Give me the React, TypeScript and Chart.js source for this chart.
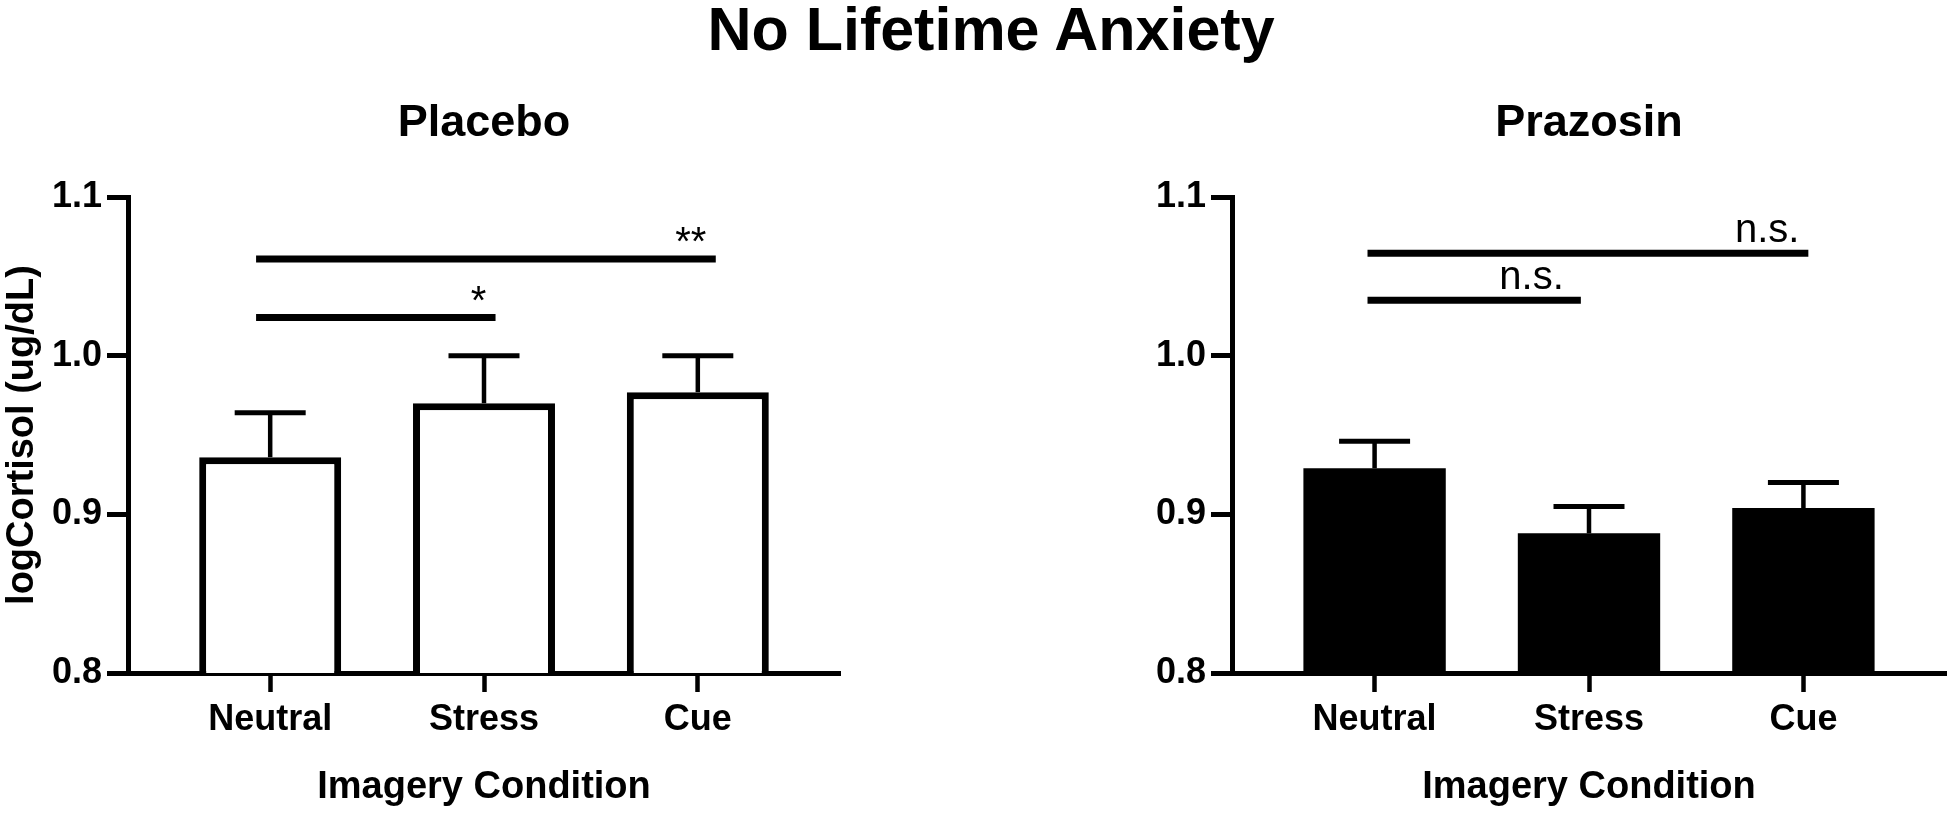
import React, { useEffect, useRef } from 'react';
import { Chart, registerables } from 'chart.js';

Chart.register(...registerables);

const FONT = '"Liberation Sans", Arial, Helvetica, sans-serif';

const mainTitle = 'No Lifetime Anxiety';
const categories = ['Neutral', 'Stress', 'Cue'];
const yTicks = [0.8, 0.9, 1.0, 1.1];
const yTitle = 'logCortisol (ug/dL)';
const xTitle = 'Imagery Condition';

const placeboTitle = 'Placebo';
const placeboMeans = [0.936, 0.970, 0.977];
const placeboSem = [0.028, 0.030, 0.023];
const placeboBracketFrom = [-0.066, -0.066];
const placeboBracketTo = [1.054, 2.084];
const placeboBracketLevel = [1.024, 1.061];
const placeboBracketLabel = ['*', '**'];
const placeboLabelX = [0.974, 1.967];

const prazosinTitle = 'Prazosin';
const prazosinMeans = [0.929, 0.888, 0.904];
const prazosinSem = [0.017, 0.017, 0.016];
const prazosinBracketFrom = [-0.033, -0.033];
const prazosinBracketTo = [0.962, 2.023];
const prazosinBracketLevel = [1.035, 1.0645];
const prazosinBracketLabel = ['n.s.', 'n.s.'];
const prazosinLabelX = [0.732, 1.831];

type PanelProps = {
  title: string;
  means: number[];
  sem: number[];
  filled: boolean;
  showYTitle: boolean;
  bFrom: number[];
  bTo: number[];
  bLevel: number[];
  bLabel: string[];
  labelX: number[];
  width: number;
  padRight: number;
};

function makeAnnotPlugin(p: PanelProps) {
  return {
    id: 'annot',
    afterDatasetsDraw(chart: any) {
      const { ctx } = chart;
      const x = chart.scales.x;
      const y = chart.scales.y;
      ctx.save();
      ctx.strokeStyle = '#000';
      ctx.fillStyle = '#000';
      ctx.lineCap = 'butt';
      // error bars (upper only)
      p.means.forEach((m, i) => {
        const px = x.getPixelForValue(i);
        const top = y.getPixelForValue(m);
        const cap = y.getPixelForValue(m + p.sem[i]);
        ctx.lineWidth = 4.5;
        ctx.beginPath();
        ctx.moveTo(px, top);
        ctx.lineTo(px, cap);
        ctx.stroke();
        ctx.lineWidth = 5;
        ctx.beginPath();
        ctx.moveTo(px - 35.5, cap);
        ctx.lineTo(px + 35.5, cap);
        ctx.stroke();
      });
      // significance brackets
      p.bLevel.forEach((lv, i) => {
        const py = y.getPixelForValue(lv);
        const x1 = x.getPixelForValue(p.bFrom[i]);
        const x2 = x.getPixelForValue(p.bTo[i]);
        ctx.lineWidth = 7;
        ctx.beginPath();
        ctx.moveTo(x1, py);
        ctx.lineTo(x2, py);
        ctx.stroke();
        const label = p.bLabel[i];
        const gap = label.startsWith('*') ? 4 : 11;
        ctx.font = `40px ${FONT}`;
        ctx.textAlign = 'center';
        ctx.textBaseline = 'alphabetic';
        ctx.fillText(label, x.getPixelForValue(p.labelX[i]), py - gap);
      });
      ctx.restore();
    },
  };
}

function Panel(p: PanelProps) {
  const ref = useRef<HTMLCanvasElement | null>(null);
  useEffect(() => {
    if (!ref.current) return;
    const chart = new Chart(ref.current, {
      type: 'bar',
      data: {
        datasets: [
          {
            data: p.means.map((m, i) => ({ x: i, y: m })),
            backgroundColor: p.filled ? '#000' : '#fff',
            borderColor: '#000',
            borderWidth: p.filled ? 0 : 7,
            borderSkipped: false,
            barPercentage: 0.664,
            categoryPercentage: 1,
          } as any,
        ],
      },
      options: {
        animation: false,
        responsive: false,
        devicePixelRatio: 1,
        layout: { padding: { top: 0, left: 0, bottom: 0, right: p.padRight } },
        plugins: {
          legend: { display: false },
          tooltip: { enabled: false },
          title: {
            display: true,
            text: p.title,
            fullSize: false,
            color: '#000',
            font: { family: FONT, size: 45, weight: 'bold' },
            padding: { top: 97, bottom: 46 },
          },
        },
        scales: {
          x: {
            type: 'linear',
            min: -0.665,
            max: 2.665,
            offset: false,
            afterBuildTicks: (s: any) => {
              s.ticks = categories.map((_, i) => ({ value: i }));
            },
            afterFit: (s: any) => {
              s.height = 142;
            },
            ticks: {
              autoSkip: false,
              maxRotation: 0,
              color: '#000',
              padding: 6,
              font: { family: FONT, size: 36, weight: 'bold' },
              callback: (v: any) => categories[Math.round(Number(v))] ?? '',
            },
            grid: {
              display: true,
              offset: false,
              drawOnChartArea: false,
              drawTicks: true,
              tickLength: 19,
              tickWidth: 4.5,
              tickColor: '#000',
            },
            border: { display: true, color: '#000', width: 5 },
            title: {
              display: true,
              text: xTitle,
              color: '#000',
              font: { family: FONT, size: 38, weight: 'bold' },
              padding: { top: 0, bottom: 5 },
            },
          } as any,
          y: {
            type: 'linear',
            min: 0.8,
            max: 1.1,
            afterBuildTicks: (s: any) => {
              s.ticks = yTicks.map((v) => ({ value: v }));
            },
            afterFit: (s: any) => {
              s.width = 128;
            },
            ticks: {
              color: '#000',
              padding: 5,
              font: { family: FONT, size: 36, weight: 'bold' },
              callback: (v: any) => Number(v).toFixed(1),
            },
            grid: {
              display: true,
              drawOnChartArea: false,
              drawTicks: true,
              tickLength: 21,
              tickWidth: 5,
              tickColor: '#000',
            },
            border: { display: true, color: '#000', width: 5 },
            title: {
              display: p.showYTitle,
              text: yTitle,
              color: '#000',
              font: { family: FONT, size: 38, weight: 'bold' },
              padding: { top: 0, bottom: 0 },
            },
          } as any,
        },
      } as any,
      plugins: [makeAnnotPlugin(p) as any],
    });
    return () => chart.destroy();
  }, []);
  return <canvas ref={ref} width={p.width} height={815} style={{ display: 'block', width: p.width, height: 815 }} />;
}

export default function App() {
  return (
    <div style={{ position: 'absolute', left: 0, top: 0, width: 1950, height: 815, background: '#fff', overflow: 'hidden' }}>
      <div style={{ position: 'absolute', left: 0, top: 0 }}>
        <Panel
          title={placeboTitle}
          means={placeboMeans}
          sem={placeboSem}
          filled={false}
          showYTitle={true}
          bFrom={placeboBracketFrom}
          bTo={placeboBracketTo}
          bLevel={placeboBracketLevel}
          bLabel={placeboBracketLabel}
          labelX={placeboLabelX}
          width={975}
          padRight={135}
        />
      </div>
      <div style={{ position: 'absolute', left: 1104, top: 0 }}>
        <Panel
          title={prazosinTitle}
          means={prazosinMeans}
          sem={prazosinSem}
          filled={true}
          showYTitle={false}
          bFrom={prazosinBracketFrom}
          bTo={prazosinBracketTo}
          bLevel={prazosinBracketLevel}
          bLabel={prazosinBracketLabel}
          labelX={prazosinLabelX}
          width={846}
          padRight={4}
        />
      </div>
      <div
        style={{
          position: 'absolute',
          left: 491,
          top: -7,
          width: 1000,
          textAlign: 'center',
          fontFamily: FONT,
          fontWeight: 'bold',
          fontSize: 61,
          lineHeight: '72px',
          color: '#000',
          whiteSpace: 'nowrap',
        }}
      >
        {mainTitle}
      </div>
    </div>
  );
}
